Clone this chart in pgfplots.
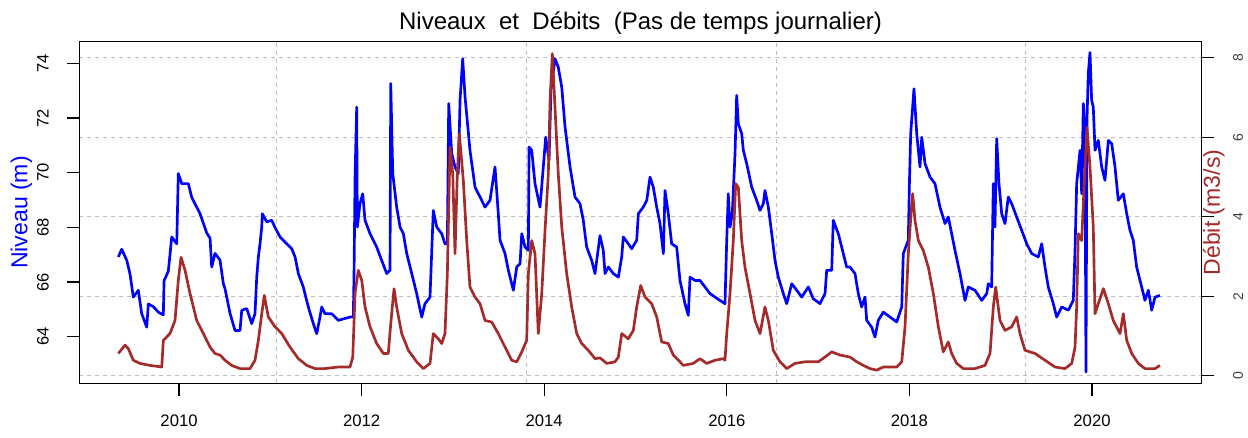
\documentclass[border=0pt]{standalone}
\usepackage{fontspec}
\setmainfont{Liberation Sans}
\usepackage{pgfplots}
\usepackage{pgfplotstable}
\pgfplotsset{compat=1.18}
\definecolor{niv}{RGB}{0,0,255}
\definecolor{deb}{RGB}{165,42,42}
\definecolor{gridc}{RGB}{190,190,190}

\pgfplotstableread{
x y
2009.335 66.92
2009.372 67.20
2009.427 66.80
2009.463 66.30
2009.499 65.45
2009.554 65.70
2009.591 64.85
2009.646 64.35
2009.664 65.20
2009.719 65.10
2009.773 64.90
2009.828 64.80
2009.836 66.05
2009.883 66.40
2009.920 67.65
2009.975 67.40
2009.992 69.97
2010.030 69.60
2010.102 69.60
2010.139 69.10
2010.230 68.50
2010.303 67.80
2010.340 67.60
2010.358 66.55
2010.394 67.05
2010.449 66.80
2010.485 65.95
2010.504 65.75
2010.559 64.85
2010.613 64.23
2010.668 64.23
2010.687 64.97
2010.742 65.03
2010.796 64.48
2010.832 64.84
2010.851 66.18
2010.869 66.92
2010.887 67.40
2010.906 68.01
2010.912 68.50
2010.961 68.20
2011.015 68.26
2011.051 68.00
2011.106 67.65
2011.161 67.46
2011.234 67.22
2011.271 66.92
2011.307 66.31
2011.361 65.82
2011.416 65.09
2011.471 64.48
2011.508 64.11
2011.544 64.72
2011.563 65.09
2011.599 64.84
2011.673 64.84
2011.745 64.60
2011.873 64.72
2011.909 64.72
2011.917 66.31
2011.928 69.84
2011.946 72.40
2011.953 68.01
2011.982 68.87
2012.012 69.23
2012.037 68.26
2012.092 67.77
2012.165 67.28
2012.220 66.79
2012.275 66.31
2012.311 66.43
2012.319 73.26
2012.341 69.97
2012.384 68.74
2012.421 68.01
2012.457 67.77
2012.494 67.04
2012.549 66.31
2012.603 65.58
2012.658 64.72
2012.694 65.21
2012.749 65.45
2012.785 68.62
2012.823 68.01
2012.877 67.77
2012.913 67.40
2012.939 67.40
2012.954 72.53
2012.987 70.70
2013.023 70.21
2013.059 69.97
2013.078 72.65
2013.107 74.17
2013.133 72.77
2013.187 70.82
2013.242 69.47
2013.297 69.11
2013.352 68.74
2013.406 68.99
2013.461 70.21
2013.497 68.50
2013.516 67.53
2013.571 67.04
2013.607 66.43
2013.662 65.70
2013.699 66.55
2013.735 66.67
2013.754 67.77
2013.790 67.28
2013.826 67.16
2013.834 70.94
2013.863 70.82
2013.899 69.60
2013.954 68.74
2013.990 70.21
2014.016 71.30
2014.053 70.45
2014.074 73.01
2014.118 74.17
2014.154 73.86
2014.192 73.13
2014.228 71.67
2014.283 70.21
2014.337 69.11
2014.392 68.87
2014.428 68.26
2014.465 67.28
2014.520 66.79
2014.556 66.31
2014.611 67.70
2014.647 67.16
2014.666 66.31
2014.702 66.55
2014.757 66.31
2014.812 66.18
2014.849 66.92
2014.866 67.65
2014.921 67.40
2014.958 67.22
2015.013 67.53
2015.031 68.50
2015.085 68.74
2015.123 68.99
2015.159 69.84
2015.195 69.47
2015.232 68.74
2015.268 68.14
2015.305 67.04
2015.323 69.35
2015.359 68.50
2015.396 67.40
2015.451 67.28
2015.487 66.06
2015.542 65.21
2015.578 64.78
2015.597 66.18
2015.652 66.06
2015.706 66.06
2015.761 65.82
2015.816 65.58
2015.871 65.45
2015.925 65.33
2015.980 65.21
2015.999 67.53
2016.016 69.23
2016.035 68.01
2016.060 68.50
2016.090 70.70
2016.108 72.83
2016.126 71.79
2016.163 71.43
2016.181 70.82
2016.218 70.33
2016.273 69.47
2016.327 68.99
2016.364 68.62
2016.400 68.87
2016.418 69.35
2016.455 68.74
2016.492 67.77
2016.528 66.79
2016.564 66.18
2016.619 65.58
2016.656 65.21
2016.711 65.94
2016.766 65.70
2016.820 65.45
2016.893 65.82
2016.947 65.39
2017.021 65.21
2017.076 65.58
2017.094 66.43
2017.149 66.43
2017.166 68.26
2017.221 67.77
2017.276 67.04
2017.313 66.55
2017.349 66.55
2017.404 66.31
2017.440 65.58
2017.477 65.09
2017.514 65.45
2017.532 64.60
2017.587 64.35
2017.623 63.99
2017.659 64.60
2017.714 64.90
2017.788 64.72
2017.861 64.54
2017.916 65.09
2017.933 67.04
2017.988 67.53
2017.999 69.47
2018.014 71.43
2018.050 73.07
2018.080 71.43
2018.116 70.21
2018.135 71.30
2018.171 70.33
2018.226 69.84
2018.280 69.60
2018.335 68.74
2018.390 68.14
2018.426 68.38
2018.463 67.77
2018.499 67.16
2018.554 66.31
2018.609 65.33
2018.645 65.82
2018.718 65.70
2018.792 65.33
2018.847 65.58
2018.864 65.94
2018.901 65.82
2018.919 69.60
2018.937 68.01
2018.956 71.25
2018.981 69.60
2019.011 68.50
2019.047 68.14
2019.083 69.11
2019.120 68.87
2019.175 68.38
2019.230 67.89
2019.285 67.40
2019.340 67.04
2019.412 66.92
2019.449 67.40
2019.485 66.55
2019.521 65.82
2019.576 65.21
2019.613 64.72
2019.668 65.09
2019.740 64.97
2019.795 65.33
2019.814 67.16
2019.832 69.60
2019.869 70.82
2019.887 69.23
2019.905 72.53
2019.923 71.55
2019.934 62.71
2019.945 71.92
2019.959 73.62
2019.978 74.40
2019.996 72.65
2020.014 72.40
2020.033 70.82
2020.069 71.18
2020.106 70.21
2020.142 69.72
2020.179 71.18
2020.216 71.06
2020.252 70.21
2020.288 68.99
2020.343 69.23
2020.380 68.50
2020.416 67.89
2020.452 67.53
2020.489 66.55
2020.544 65.82
2020.580 65.33
2020.617 65.70
2020.654 64.97
2020.690 65.45
2020.745 65.51
}\niveau

\pgfplotstableread{
x y
2009.335 0.56
2009.409 0.77
2009.445 0.68
2009.499 0.39
2009.573 0.31
2009.682 0.26
2009.811 0.22
2009.828 0.89
2009.901 1.06
2009.956 1.39
2009.992 2.40
2010.022 2.98
2010.066 2.65
2010.120 2.07
2010.194 1.39
2010.266 1.06
2010.340 0.72
2010.394 0.56
2010.449 0.52
2010.504 0.39
2010.577 0.26
2010.668 0.18
2010.778 0.18
2010.832 0.39
2010.869 0.89
2010.906 1.56
2010.934 2.02
2010.978 1.48
2011.051 1.23
2011.125 1.06
2011.216 0.72
2011.307 0.43
2011.399 0.26
2011.490 0.18
2011.599 0.18
2011.745 0.22
2011.873 0.22
2011.903 0.47
2011.928 2.07
2011.964 2.65
2012.001 2.40
2012.037 1.73
2012.092 1.23
2012.165 0.81
2012.238 0.56
2012.292 0.56
2012.319 1.31
2012.355 2.19
2012.384 1.73
2012.439 1.06
2012.512 0.64
2012.603 0.35
2012.676 0.18
2012.749 0.31
2012.785 1.06
2012.840 0.93
2012.877 0.81
2012.913 1.06
2012.939 2.57
2012.968 5.75
2012.998 5.08
2013.023 3.07
2013.048 5.08
2013.070 6.09
2013.114 4.91
2013.151 3.40
2013.187 2.23
2013.242 1.98
2013.297 1.81
2013.352 1.39
2013.425 1.35
2013.497 1.06
2013.571 0.72
2013.644 0.39
2013.699 0.35
2013.754 0.60
2013.808 0.89
2013.826 2.57
2013.863 3.40
2013.899 3.07
2013.935 1.06
2013.973 2.07
2014.009 3.66
2014.045 5.08
2014.064 6.92
2014.089 8.10
2014.118 6.75
2014.154 5.08
2014.192 3.74
2014.246 2.57
2014.301 1.73
2014.356 1.06
2014.411 0.81
2014.483 0.64
2014.556 0.43
2014.611 0.45
2014.685 0.31
2014.775 0.35
2014.812 0.47
2014.849 1.06
2014.921 0.93
2014.976 1.14
2015.013 1.73
2015.057 2.27
2015.104 1.98
2015.177 1.81
2015.232 1.48
2015.287 0.85
2015.359 0.81
2015.414 0.52
2015.487 0.35
2015.524 0.26
2015.633 0.31
2015.706 0.43
2015.780 0.31
2015.871 0.39
2015.962 0.43
2015.980 0.39
2015.999 1.06
2016.035 2.07
2016.071 3.40
2016.097 4.83
2016.126 4.74
2016.163 3.40
2016.199 2.73
2016.254 2.07
2016.309 1.39
2016.364 1.06
2016.418 1.73
2016.455 1.39
2016.509 0.64
2016.583 0.35
2016.656 0.18
2016.747 0.31
2016.856 0.35
2017.002 0.35
2017.076 0.47
2017.149 0.60
2017.240 0.52
2017.349 0.47
2017.423 0.35
2017.495 0.26
2017.568 0.18
2017.642 0.14
2017.714 0.22
2017.861 0.22
2017.916 0.35
2017.952 1.23
2017.988 3.07
2018.018 4.08
2018.036 4.58
2018.061 3.91
2018.098 3.40
2018.152 3.15
2018.207 2.73
2018.262 2.07
2018.317 1.23
2018.371 0.60
2018.426 0.85
2018.463 0.56
2018.518 0.31
2018.590 0.18
2018.718 0.18
2018.828 0.26
2018.883 0.56
2018.919 1.73
2018.945 2.23
2018.992 1.39
2019.047 1.14
2019.120 1.23
2019.175 1.48
2019.211 1.06
2019.266 0.64
2019.376 0.56
2019.485 0.39
2019.595 0.22
2019.704 0.18
2019.778 0.31
2019.814 0.72
2019.832 1.73
2019.850 3.57
2019.887 3.40
2019.916 4.91
2019.945 6.25
2019.978 5.25
2020.014 3.74
2020.033 1.56
2020.069 1.81
2020.124 2.19
2020.179 1.81
2020.233 1.39
2020.307 1.06
2020.343 1.56
2020.380 0.89
2020.435 0.56
2020.507 0.31
2020.580 0.18
2020.690 0.18
2020.745 0.26
}\debit

\pgfplotsset{
  common/.style={
    at={(0pt,0pt)}, anchor=south west, scale only axis,
    width=841.8pt, height=256.2pt,
    xmin=2008.908, xmax=2021.202,
    tick align=outside, major tick length=9.3pt,
    every tick/.style={black, line width=1pt},
    /pgf/number format/assume math mode=true,
    /pgf/number format/1000 sep={},
  }
}

\begin{document}
\begin{tikzpicture}
\useasboundingbox (-59.5pt,-40.3pt) rectangle (876.5pt,287.5pt);
% grid and right-hand axis
\begin{axis}[common,
  ymin=-0.191, ymax=8.40,
  xtick=\empty,
  extra x ticks={2011.070,2013.801,2016.547,2019.274},
  extra x tick labels={},
  extra x tick style={grid=major, major tick length=0pt},
  ytick={0,2,4,6,8}, ytick pos=right, yticklabel pos=right,
  ymajorgrids,
  grid style={gridc, line width=0.8pt, dash pattern=on 3pt off 3pt},
  yticklabel style={xshift=18pt, rotate=90, anchor=center, font=\fontsize{10.5}{12}\selectfont, text=black!75},
  axis line style={draw=none},
  ylabel={Débit (m3/s)},
  every axis y label/.style={at={(rel axis cs:1,0.5)}, xshift=9pt, rotate=90, anchor=center, text=deb, font=\fontsize{17.3}{20}\selectfont},
]
\end{axis}
% left axis: Niveau
\begin{axis}[common,
  ymin=62.296, ymax=74.79,
  xtick={2010,2012,2014,2016,2018,2020}, xtick pos=left,
  ytick={64,66,68,70,72,74}, ytick pos=left,
  xticklabel style={yshift=-10.5pt, font=\fontsize{12.5}{14}\selectfont},
  yticklabel style={xshift=-18pt, rotate=90, anchor=center, font=\fontsize{12.4}{14}\selectfont},
  axis line style={line width=1.1pt},
  ylabel={Niveau (m)},
  every axis y label/.style={at={(rel axis cs:0,0.5)}, xshift=-43.4pt, rotate=90, anchor=center, text=niv, font=\fontsize{17.3}{20}\selectfont},
  title={Niveaux\ \ et\ \ Débits\ \ (Pas de temps journalier)},
  title style={at={(rel axis cs:0.5,1)}, anchor=base, yshift=3.3pt, font=\fontsize{18}{20}\selectfont},
]
\addplot[niv, line width=2pt, line join=round] table {\niveau};
\end{axis}
% right axis data: Debit
\begin{axis}[common,
  ymin=-0.191, ymax=8.40, hide axis,
]
\addplot[deb, line width=2pt, line join=round] table {\debit};
\end{axis}
\end{tikzpicture}
\end{document}
